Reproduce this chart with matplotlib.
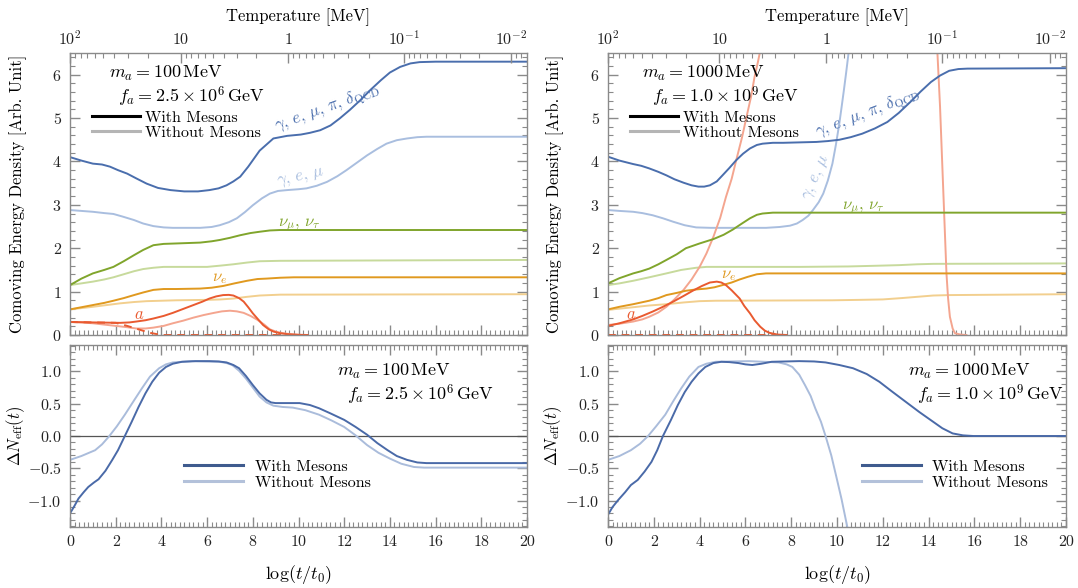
import numpy as np
import matplotlib
matplotlib.use("Agg")
import matplotlib.pyplot as plt
from matplotlib.lines import Line2D
from matplotlib.ticker import MultipleLocator

plt.rcParams['font.family'] = 'serif'
plt.rcParams['font.serif'] = ['cmr10', 'DejaVu Serif']
plt.rcParams['mathtext.fontset'] = 'cm'
plt.rcParams['axes.formatter.use_mathtext'] = True
plt.rcParams['axes.unicode_minus'] = True

# ---------------- data: left column (m_a = 100 MeV) ----------------
L_blue_x = [0, 0.5, 1.0, 1.4, 1.75, 2.1, 2.5, 2.9, 3.35, 3.85, 4.4, 5.0, 5.6, 6.1, 6.5, 6.85, 7.15, 7.45, 7.8, 8.3, 8.9, 9.5, 10.1, 10.5, 10.95, 11.4, 11.8, 12.25, 12.7, 13.15, 13.6, 14.0, 14.45, 14.9, 15.3, 16.0, 20]
L_blue_y = [4.10, 4.02, 3.95, 3.93, 3.88, 3.80, 3.72, 3.61, 3.49, 3.39, 3.34, 3.31, 3.31, 3.34, 3.38, 3.45, 3.54, 3.65, 3.88, 4.25, 4.53, 4.59, 4.62, 4.66, 4.72, 4.83, 4.99, 5.19, 5.41, 5.65, 5.87, 6.05, 6.18, 6.26, 6.29, 6.30, 6.30]
L_blue_nm_x = [0, 0.5, 1.0, 1.5, 1.9, 2.3, 2.8, 3.2, 3.65, 4.1, 4.5, 5.7, 6.2, 6.55, 6.95, 7.3, 7.65, 8.0, 8.4, 8.75, 9.1, 9.5, 10.0, 10.35, 10.8, 11.25, 11.7, 12.1, 12.55, 13.0, 13.45, 13.85, 14.3, 14.75, 15.2, 15.6, 20]
L_blue_nm_y = [2.88, 2.86, 2.84, 2.81, 2.79, 2.73, 2.65, 2.57, 2.51, 2.48, 2.47, 2.47, 2.49, 2.53, 2.60, 2.69, 2.83, 2.99, 3.15, 3.26, 3.32, 3.34, 3.36, 3.38, 3.44, 3.53, 3.66, 3.80, 3.97, 4.14, 4.29, 4.41, 4.49, 4.53, 4.56, 4.57, 4.57]
L_green_x = [0, 0.5, 1.0, 1.5, 1.9, 2.35, 2.8, 3.2, 3.65, 4.1, 4.65, 5.7, 6.2, 6.55, 7.0, 7.45, 7.9, 8.3, 8.75, 9.2, 20]
L_green_y = [1.15, 1.30, 1.42, 1.50, 1.57, 1.70, 1.84, 1.96, 2.07, 2.10, 2.11, 2.13, 2.16, 2.19, 2.24, 2.30, 2.35, 2.38, 2.41, 2.42, 2.42]
L_green_nm_x = [0, 0.5, 1.0, 1.5, 1.9, 2.35, 2.8, 3.2, 3.65, 4.1, 6.0, 6.6, 7.15, 7.75, 8.3, 9.2, 20]
L_green_nm_y = [1.15, 1.19, 1.23, 1.28, 1.33, 1.40, 1.47, 1.52, 1.55, 1.57, 1.57, 1.60, 1.63, 1.67, 1.70, 1.71, 1.73]
L_orange_x = [0, 0.5, 1.0, 1.5, 1.9, 2.35, 2.8, 3.2, 3.65, 4.1, 4.65, 5.7, 6.2, 6.7, 7.2, 7.75, 8.2, 8.6, 9.2, 9.8, 20]
L_orange_y = [0.59, 0.64, 0.69, 0.74, 0.79, 0.85, 0.92, 0.98, 1.04, 1.06, 1.06, 1.07, 1.09, 1.13, 1.19, 1.25, 1.29, 1.30, 1.32, 1.33, 1.33]
L_orange_nm_x = [0, 1.0, 1.6, 2.2, 2.8, 3.35, 4.0, 4.65, 6.0, 6.6, 7.15, 7.75, 8.3, 9.2, 20]
L_orange_nm_y = [0.59, 0.65, 0.69, 0.73, 0.76, 0.78, 0.79, 0.80, 0.81, 0.82, 0.84, 0.88, 0.91, 0.93, 0.94]
L_red_x = [0, 1.0, 1.6, 2.2, 2.6, 2.9, 3.3, 3.65, 4.1, 4.5, 4.95, 5.4, 5.8, 6.1, 6.4, 6.7, 6.95, 7.15, 7.4, 7.6, 7.8, 8.0, 8.25, 8.45, 8.7, 8.9, 9.2, 9.5, 10.0, 10.4]
L_red_y = [0.30, 0.29, 0.285, 0.28, 0.29, 0.31, 0.34, 0.38, 0.44, 0.51, 0.60, 0.69, 0.77, 0.84, 0.89, 0.92, 0.925, 0.91, 0.85, 0.77, 0.64, 0.50, 0.35, 0.23, 0.13, 0.08, 0.04, 0.02, 0.005, 0.0]
L_red_nm_x = [0, 0.5, 1.0, 1.5, 2.0, 2.5, 2.9, 3.3, 3.65, 4.1, 4.5, 4.95, 5.4, 5.85, 6.3, 6.65, 7.0, 7.3, 7.6, 7.9, 8.2, 8.5, 8.75, 9.05, 9.35, 9.7, 10.1]
L_red_nm_y = [0.30, 0.29, 0.27, 0.24, 0.21, 0.18, 0.15, 0.15, 0.17, 0.21, 0.27, 0.33, 0.40, 0.46, 0.51, 0.545, 0.56, 0.545, 0.51, 0.44, 0.35, 0.24, 0.13, 0.07, 0.04, 0.015, 0.0]
L_red_dash_x = [0, 1.0, 2.0, 2.5, 3.0, 3.5, 4.0, 10.4]
L_red_dash_y = [0.30, 0.29, 0.28, 0.21, 0.13, 0.05, 0.0, 0.0]

L_dn_x = [0, 0.2, 0.37, 0.6, 0.8, 1.05, 1.25, 1.55, 1.85, 2.1, 2.4, 2.7, 3.0, 3.3, 3.6, 3.9, 4.2, 4.5, 4.9, 5.5, 6.1, 6.5, 6.85, 7.15, 7.4, 7.7, 8.0, 8.3, 8.6, 8.8, 9.0, 10.05, 10.5, 10.9, 11.4, 12.0, 12.5, 13.0, 13.45, 13.9, 14.3, 14.75, 15.2, 15.6, 20]
L_dn_y = [-1.20, -1.08, -0.97, -0.87, -0.79, -0.72, -0.67, -0.54, -0.37, -0.22, 0.0, 0.22, 0.45, 0.66, 0.84, 0.98, 1.07, 1.12, 1.15, 1.16, 1.16, 1.155, 1.14, 1.10, 1.05, 0.93, 0.79, 0.66, 0.56, 0.52, 0.51, 0.51, 0.48, 0.43, 0.35, 0.25, 0.14, 0.02, -0.11, -0.22, -0.31, -0.37, -0.41, -0.42, -0.42]
L_dn_nm_x = [0, 0.5, 1.1, 1.4, 1.7, 2.05, 2.4, 2.8, 3.15, 3.5, 3.9, 4.2, 4.5, 5.35, 6.55, 6.85, 7.1, 7.4, 7.7, 8.0, 8.3, 8.6, 8.9, 9.3, 9.75, 10.3, 10.9, 11.45, 12.0, 12.5, 13.0, 13.5, 14.0, 14.5, 15.05, 15.5, 20]
L_dn_nm_y = [-0.37, -0.31, -0.22, -0.13, -0.01, 0.15, 0.33, 0.55, 0.74, 0.92, 1.05, 1.11, 1.14, 1.16, 1.15, 1.13, 1.10, 1.01, 0.89, 0.75, 0.61, 0.52, 0.47, 0.45, 0.44, 0.40, 0.33, 0.24, 0.14, 0.01, -0.14, -0.26, -0.35, -0.43, -0.48, -0.49, -0.49]

# ---------------- data: right column (m_a = 1000 MeV) ----------------
R_blue_x = [0, 0.5, 1.1, 1.45, 1.8, 2.2, 2.55, 2.9, 3.3, 3.65, 3.95, 4.2, 4.45, 4.75, 5.0, 5.3, 5.6, 5.9, 6.2, 6.5, 6.75, 7.2, 7.65, 9.1, 9.6, 10.1, 10.6, 11.1, 11.65, 12.2, 12.7, 13.2, 13.65, 14.1, 14.5, 14.9, 15.3, 15.7, 20]
R_blue_y = [4.11, 4.02, 3.94, 3.90, 3.84, 3.76, 3.68, 3.59, 3.51, 3.45, 3.42, 3.42, 3.45, 3.54, 3.68, 3.85, 4.03, 4.18, 4.30, 4.38, 4.41, 4.43, 4.43, 4.45, 4.47, 4.50, 4.56, 4.64, 4.76, 4.91, 5.12, 5.37, 5.61, 5.83, 5.98, 6.09, 6.13, 6.14, 6.15]
R_blue_nm_x = [0, 0.5, 1.1, 1.5, 1.95, 2.4, 2.85, 3.35, 3.85, 4.5, 6.9, 7.5, 7.95, 8.25, 8.5, 8.75, 8.95, 9.2, 9.4, 9.6, 9.8, 9.95, 10.1, 10.2, 10.3, 10.4, 10.5, 10.7]
R_blue_nm_y = [2.88, 2.86, 2.84, 2.81, 2.76, 2.69, 2.61, 2.53, 2.48, 2.47, 2.47, 2.49, 2.52, 2.57, 2.65, 2.75, 2.88, 3.06, 3.26, 3.56, 3.95, 4.38, 4.87, 5.25, 5.64, 6.05, 6.48, 7.4]
R_green_x = [0, 0.5, 1.1, 1.45, 1.8, 2.2, 2.55, 3.0, 3.4, 4.0, 4.6, 5.05, 5.45, 5.85, 6.2, 6.5, 6.75, 7.2, 20]
R_green_y = [1.19, 1.31, 1.42, 1.47, 1.53, 1.63, 1.73, 1.86, 2.00, 2.11, 2.21, 2.31, 2.43, 2.57, 2.69, 2.77, 2.80, 2.82, 2.82]
R_green_nm_x = [0, 0.5, 1.1, 1.8, 2.55, 3.2, 3.85, 4.3, 8.4, 10.5, 12.0, 12.7, 13.5, 14.2, 20]
R_green_nm_y = [1.15, 1.19, 1.25, 1.33, 1.42, 1.50, 1.55, 1.57, 1.57, 1.58, 1.60, 1.61, 1.63, 1.64, 1.65]
R_orange_x = [0, 0.5, 1.1, 1.45, 1.8, 2.2, 2.55, 3.0, 3.4, 3.85, 4.3, 4.65, 5.0, 5.4, 5.75, 6.1, 6.5, 6.9, 20]
R_orange_y = [0.59, 0.65, 0.71, 0.75, 0.79, 0.85, 0.92, 0.97, 1.02, 1.05, 1.07, 1.10, 1.15, 1.21, 1.28, 1.34, 1.40, 1.42, 1.42]
R_orange_nm_x = [0, 1.1, 1.8, 2.55, 3.3, 4.0, 4.7, 9.8, 11.0, 12.0, 12.8, 13.5, 14.2, 14.9, 20]
R_orange_nm_y = [0.58, 0.64, 0.68, 0.71, 0.75, 0.78, 0.79, 0.80, 0.81, 0.82, 0.85, 0.88, 0.91, 0.92, 0.94]
R_red_x = [0, 0.5, 1.1, 1.5, 1.95, 2.4, 2.85, 3.3, 3.7, 4.1, 4.45, 4.75, 4.95, 5.15, 5.4, 5.75, 5.95, 6.2, 6.4, 6.65, 6.85, 7.05, 7.4, 7.8]
R_red_y = [0.21, 0.27, 0.36, 0.44, 0.54, 0.65, 0.77, 0.90, 1.02, 1.13, 1.21, 1.23, 1.21, 1.15, 1.03, 0.84, 0.67, 0.50, 0.34, 0.19, 0.10, 0.05, 0.01, 0.0]
R_red_nm_x = [0, 0.5, 1.1, 1.5, 1.8, 2.2, 2.55, 2.9, 3.3, 3.65, 4.0, 4.3, 4.6, 4.9, 5.15, 5.4, 5.6, 5.85, 6.05, 6.25, 6.4, 6.55, 6.65, 7.0, 14.2, 14.38, 14.5, 14.64, 14.78, 14.85, 14.93, 15.05, 15.15, 15.4, 15.65]
R_red_nm_y = [0.23, 0.26, 0.31, 0.36, 0.42, 0.52, 0.65, 0.82, 1.04, 1.28, 1.57, 1.88, 2.26, 2.70, 3.18, 3.60, 4.03, 4.55, 5.03, 5.50, 5.95, 6.30, 6.56, 8.0, 9.0, 6.56, 5.26, 3.34, 1.42, 0.85, 0.42, 0.15, 0.04, 0.01, 0.0]
R_red_dash_x = [0, 7.8]
R_red_dash_y = [0.0, 0.0]

R_dn_x = [0, 0.2, 0.45, 0.75, 1.0, 1.3, 1.6, 1.9, 2.15, 2.4, 2.75, 3.05, 3.35, 3.65, 3.95, 4.25, 4.6, 4.95, 5.3, 5.7, 6.0, 6.3, 6.7, 7.15, 8.35, 9.0, 9.5, 10.1, 10.7, 11.3, 11.85, 12.4, 13.0, 13.6, 14.2, 14.6, 15.05, 15.5, 15.95, 20]
R_dn_y = [-1.22, -1.10, -0.99, -0.87, -0.76, -0.68, -0.55, -0.40, -0.22, 0.0, 0.25, 0.48, 0.68, 0.84, 0.97, 1.07, 1.13, 1.15, 1.145, 1.13, 1.11, 1.10, 1.12, 1.15, 1.16, 1.155, 1.14, 1.10, 1.05, 0.96, 0.84, 0.69, 0.53, 0.37, 0.22, 0.12, 0.04, 0.01, 0.0, 0.0]
R_dn_nm_x = [0, 0.5, 1.0, 1.4, 1.75, 2.1, 2.5, 2.85, 3.2, 3.55, 3.95, 4.3, 4.7, 6.15, 7.45, 7.8, 8.05, 8.35, 8.6, 8.85, 9.05, 9.3, 9.5, 9.75, 9.95, 10.2, 10.45, 10.7]
R_dn_nm_y = [-0.37, -0.31, -0.22, -0.12, 0.0, 0.15, 0.33, 0.54, 0.74, 0.92, 1.07, 1.12, 1.15, 1.16, 1.14, 1.11, 1.07, 0.95, 0.79, 0.62, 0.43, 0.22, 0.0, -0.30, -0.60, -0.98, -1.41, -1.85]

# temperature axis: log(t/t0) where T = 100, 10, 1, 0.1, 0.01 MeV
T_pos = [0, 4.86, 9.54, 14.6, 19.3]
T_labels = [r'$10^2$', r'$10$', r'$1$', r'$10^{-1}$', r'$10^{-2}$']

# colours
c_blue, c_blue_l = '#4a6ead', '#a9bedf'
c_green, c_green_l = '#80a52c', '#c7da9c'
c_orange, c_orange_l = '#e0991f', '#f2cf8e'
c_red, c_red_l = '#e95a30', '#f4a58f'
c_dn, c_dn_l = '#4a6aa8', '#aabcdb'
frame_c = '#8a8a8a'
lw = 1.4

fig = plt.figure(figsize=(10.78, 5.88), dpi=100)
W, H = 1078.0, 588.0


def pax(l, t, r, b):
    return fig.add_axes([l / W, 1 - b / H, (r - l) / W, (b - t) / H])


def style(ax, xminor=0.2, ymajor=1, yminor=0.2):
    for s in ax.spines.values():
        s.set_color(frame_c)
        s.set_linewidth(1.0)
    ax.set_xlim(0, 20)
    ax.xaxis.set_major_locator(MultipleLocator(2))
    ax.xaxis.set_minor_locator(MultipleLocator(xminor))
    ax.yaxis.set_major_locator(MultipleLocator(ymajor))
    ax.yaxis.set_minor_locator(MultipleLocator(yminor))
    ax.tick_params(which='both', direction='in', top=True, right=True, color=frame_c,
                   labelsize=11.5, labelcolor='#222222', pad=6)
    ax.tick_params(which='major', length=7, width=1.0)
    ax.tick_params(which='minor', length=3.5, width=0.8)


def temp_axis(ax):
    tx = ax.twiny()
    tx.set_xlim(0, 20)
    tx.set_xticks(T_pos)
    tx.set_xticklabels(T_labels)
    minor = []
    for i in range(len(T_pos)):
        step = T_pos[i + 1] - T_pos[i] if i + 1 < len(T_pos) else 4.7
        for k in range(2, 10):
            p = T_pos[i] + step * (1 - np.log10(k))
            if p <= 20:
                minor.append(p)
    tx.set_xticks(minor, minor=True)
    tx.tick_params(which='both', direction='in', color=frame_c, labelsize=11.5, labelcolor='#222222', pad=4)
    tx.tick_params(which='major', length=7, width=1.0)
    tx.tick_params(which='minor', length=3.5, width=0.8)
    for s in tx.spines.values():
        s.set_visible(False)
    tx.set_xlabel('Temperature [MeV]', fontsize=12, labelpad=6)
    return tx


def top_panel(ax, d, ma_txt, fa_txt, labels):
    style(ax)
    ax.set_ylim(0, 6.5)
    ax.tick_params(axis='x', labelbottom=False)
    ax.plot(d['bnm'][0], d['bnm'][1], color=c_blue_l, lw=lw)
    ax.plot(d['gnm'][0], d['gnm'][1], color=c_green_l, lw=lw)
    ax.plot(d['onm'][0], d['onm'][1], color=c_orange_l, lw=lw)
    ax.plot(d['rnm'][0], d['rnm'][1], color=c_red_l, lw=lw)
    ax.plot(d['rd'][0], d['rd'][1], color=c_red, lw=lw, ls=(0, (4, 3)))
    ax.plot(d['b'][0], d['b'][1], color=c_blue, lw=lw)
    ax.plot(d['g'][0], d['g'][1], color=c_green, lw=lw)
    ax.plot(d['o'][0], d['o'][1], color=c_orange, lw=lw)
    ax.plot(d['r'][0], d['r'][1], color=c_red, lw=lw)
    ax.set_ylabel('Comoving Energy Density [Arb. Unit]', fontsize=12, labelpad=8)
    temp_axis(ax)
    ax.text(ma_txt[0], ma_txt[1], ma_txt[2], transform=ax.transAxes, fontsize=13)
    ax.text(fa_txt[0], fa_txt[1], fa_txt[2], transform=ax.transAxes, fontsize=13)
    h = [Line2D([], [], color='black', lw=2.2), Line2D([], [], color='#b5b5b5', lw=2.2)]
    ax.legend(h, ['With Mesons', 'Without Mesons'], loc='upper left', bbox_to_anchor=(0.048, 0.795),
              frameon=False, fontsize=11.5, handlelength=3.0, handletextpad=0.35, labelspacing=0.05,
              borderpad=0, borderaxespad=0)
    for (x, y, s, c, rot) in labels:
        ax.text(x, y, s, color=c, fontsize=12, rotation=rot, rotation_mode='anchor')


def bottom_panel(ax, x1, y1, x2, y2, ma_txt, fa_txt, leg_x):
    style(ax, xminor=0.2, ymajor=0.5, yminor=0.1)
    ax.set_ylim(-1.41, 1.41)
    ax.axhline(0, color='#555555', lw=0.9)
    ax.plot(x2, y2, color=c_dn_l, lw=lw)
    ax.plot(x1, y1, color=c_dn, lw=lw)
    ax.set_xticks(range(0, 21, 2))
    ax.set_xticklabels([str(v) for v in range(0, 21, 2)])
    ax.set_xlabel(r'$\log(t/t_0)$', fontsize=13, labelpad=10)
    ax.set_ylabel(r'$\Delta N_{\rm eff}(t)$', fontsize=12, labelpad=4)
    ax.text(ma_txt[0], ma_txt[1], ma_txt[2], transform=ax.transAxes, fontsize=13)
    ax.text(fa_txt[0], fa_txt[1], fa_txt[2], transform=ax.transAxes, fontsize=13)
    h = [Line2D([], [], color='#3f5b8e', lw=2.2), Line2D([], [], color='#b3c1da', lw=2.2)]
    ax.legend(h, ['With Mesons', 'Without Mesons'], loc='upper left', bbox_to_anchor=(leg_x, 0.37),
              frameon=False, fontsize=11.5, handlelength=3.7, handletextpad=0.7, labelspacing=0.12,
              borderpad=0, borderaxespad=0)


# axes placement (pixel boxes)
ax_tl = pax(70, 53, 527, 335)
ax_bl = pax(70, 345, 527, 527)
ax_tr = pax(608, 53, 1066, 335)
ax_br = pax(608, 345, 1066, 527)

left_data = {
    'b': (L_blue_x, L_blue_y), 'bnm': (L_blue_nm_x, L_blue_nm_y),
    'g': (L_green_x, L_green_y), 'gnm': (L_green_nm_x, L_green_nm_y),
    'o': (L_orange_x, L_orange_y), 'onm': (L_orange_nm_x, L_orange_nm_y),
    'r': (L_red_x, L_red_y), 'rnm': (L_red_nm_x, L_red_nm_y), 'rd': (L_red_dash_x, L_red_dash_y),
}
right_data = {
    'b': (R_blue_x, R_blue_y), 'bnm': (R_blue_nm_x, R_blue_nm_y),
    'g': (R_green_x, R_green_y), 'gnm': (R_green_nm_x, R_green_nm_y),
    'o': (R_orange_x, R_orange_y), 'onm': (R_orange_nm_x, R_orange_nm_y),
    'r': (R_red_x, R_red_y), 'rnm': (R_red_nm_x, R_red_nm_y), 'rd': (R_red_dash_x, R_red_dash_y),
}

top_panel(ax_tl, left_data,
          (0.085, 0.91, r'$m_a = 100\,\mathrm{MeV}$'),
          (0.105, 0.825, r'$f_a = 2.5 \times 10^6\,\mathrm{GeV}$'),
          [(9.05, 4.72, r'$\gamma,\, e,\, \mu,\, \pi,\, \delta_{\rm QCD}$', c_blue, 20),
           (9.1, 3.44, r'$\gamma,\, e,\, \mu$', c_blue_l, 12),
           (9.1, 2.52, r'$\nu_\mu,\, \nu_\tau$', c_green, 0),
           (6.2, 1.25, r'$\nu_e$', c_orange, 0),
           (2.8, 0.38, r'$a$', c_red, 0)])

top_panel(ax_tr, right_data,
          (0.075, 0.91, r'$m_a = 1000\,\mathrm{MeV}$'),
          (0.095, 0.825, r'$f_a = 1.0 \times 10^9\,\mathrm{GeV}$'),
          [(9.15, 4.58, r'$\gamma,\, e,\, \mu,\, \pi,\, \delta_{\rm QCD}$', c_blue, 21),
           (8.8, 3.1, r'$\gamma,\, e,\, \mu$', c_blue_l, 66),
           (10.2, 2.9, r'$\nu_\mu,\, \nu_\tau$', c_green, 0),
           (4.95, 1.3, r'$\nu_e$', c_orange, 0),
           (0.8, 0.38, r'$a$', c_red, 0)])

bottom_panel(ax_bl, L_dn_x, L_dn_y, L_dn_nm_x, L_dn_nm_y,
             (0.585, 0.83, r'$m_a = 100\,\mathrm{MeV}$'),
             (0.607, 0.695, r'$f_a = 2.5 \times 10^6\,\mathrm{GeV}$'), 0.25)
bottom_panel(ax_br, R_dn_x, R_dn_y, R_dn_nm_x, R_dn_nm_y,
             (0.655, 0.83, r'$m_a = 1000\,\mathrm{MeV}$'),
             (0.675, 0.695, r'$f_a = 1.0 \times 10^9\,\mathrm{GeV}$'), 0.555)

for ax in (ax_tl, ax_tr):
    ax.yaxis.set_label_coords(-0.095, 0.5)
for ax in (ax_bl, ax_br):
    ax.yaxis.set_label_coords(-0.095, 0.5)

fig.savefig('out.png', dpi=100)
